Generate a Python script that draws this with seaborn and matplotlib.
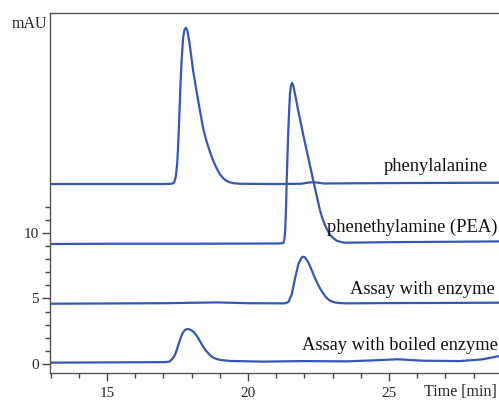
import numpy as np
import pandas as pd
import matplotlib
matplotlib.use("Agg")
import matplotlib.pyplot as plt
import seaborn as sns
from matplotlib.ticker import FixedLocator, MultipleLocator

# traces (time in min, signal in mAU, already offset)
phe_t = [12.9, 15.0, 17.0, 17.30, 17.38, 17.44, 17.49, 17.53, 17.57, 17.61, 17.65, 17.70, 17.75,
         17.80, 17.85, 17.92, 18.06, 18.24, 18.41, 18.53, 18.65, 18.77, 18.89, 19.0, 19.12,
         19.24, 19.36, 19.5, 19.72, 21.0, 21.9, 22.1, 22.3, 22.5, 22.7, 24.0, 26.0, 29.0]
phe_v = [13.74, 13.74, 13.74, 13.76, 13.85, 14.3, 15.3, 16.97, 19.2, 21.55, 23.3, 24.9, 25.55,
         25.67, 25.45, 24.60, 22.31, 20.02, 17.99, 17.0, 16.21, 15.5, 14.94, 14.5, 14.18,
         13.98, 13.87, 13.8, 13.76, 13.74, 13.76, 13.84, 13.88, 13.84, 13.78, 13.80, 13.82, 13.84]

pea_t = [12.9, 15.0, 18.0, 21.0, 21.18, 21.25, 21.29, 21.32, 21.35, 21.37, 21.40, 21.43, 21.46,
         21.49, 21.52, 21.56, 21.60, 21.65, 21.73, 21.96, 22.20, 22.34, 22.55, 22.64, 22.73,
         22.82, 22.91, 23.03, 23.15, 23.3, 23.44, 25.0, 27.0, 29.0]
pea_v = [9.16, 9.18, 9.18, 9.20, 9.21, 9.24, 9.5, 10.23, 12.0, 13.79, 15.9, 17.86, 19.4,
         20.66, 21.2, 21.47, 21.3, 20.8, 19.90, 17.48, 15.14, 13.74, 11.76, 11.1, 10.61,
         10.2, 9.85, 9.6, 9.41, 9.31, 9.26, 9.30, 9.33, 9.36]

enz_t = [12.9, 15.0, 17.0, 18.9, 20.0, 21.0, 21.30, 21.43, 21.55, 21.67, 21.79, 21.90, 21.96,
         22.02, 22.14, 22.26, 22.38, 22.55, 22.73, 22.82, 22.91, 23.02, 23.14, 23.35, 23.55,
         25.0, 27.0, 29.0]
enz_v = [4.60, 4.62, 4.64, 4.70, 4.64, 4.63, 4.63, 4.72, 5.3, 6.55, 7.65, 8.12, 8.19,
         8.14, 7.75, 7.15, 6.54, 5.78, 5.19, 4.98, 4.83, 4.73, 4.68, 4.64, 4.63,
         4.65, 4.66, 4.68]

boil_t = [12.9, 15.0, 17.0, 17.15, 17.23, 17.32, 17.41, 17.47, 17.53, 17.59, 17.65, 17.71, 17.77,
          17.83, 17.88, 17.95, 18.06, 18.15, 18.24, 18.33, 18.41, 18.50, 18.59, 18.68, 18.77,
          18.89, 19.01, 19.36, 20.5, 22.0, 23.5, 24.5, 25.3, 26.2, 27.5, 28.3, 28.9]
boil_v = [0.10, 0.12, 0.14, 0.16, 0.20, 0.40, 0.69, 1.05, 1.45, 1.85, 2.21, 2.45, 2.60,
          2.66, 2.67, 2.62, 2.47, 2.25, 1.96, 1.62, 1.32, 1.05, 0.82, 0.62, 0.48,
          0.38, 0.31, 0.23, 0.18, 0.22, 0.20, 0.28, 0.36, 0.25, 0.22, 0.35, 0.60]

labels = ["phenylalanine", "phenethylamine (PEA)", "Assay with enzyme", "Assay with boiled enzyme"]
label_x = [24.8, 22.80, 23.62, 21.90]
label_y = [15.05, 10.4, 5.65, 1.4]

x_major = [15, 20, 25]
y_major = [0, 5, 10]
y_minor = [1, 2, 3, 4, 6, 7, 8, 9, 11, 12]

sns.set_style("ticks")
plt.rcParams['font.family'] = ['Liberation Serif', 'DejaVu Serif']

color = '#3557b7'
fig = plt.figure(figsize=(4.99, 4.01), dpi=100)
ax = fig.add_axes([0.1002, 0.0698, 0.8998, 0.8978])

for t, v in [(phe_t, phe_v), (pea_t, pea_v), (enz_t, enz_v), (boil_t, boil_v)]:
    df = pd.DataFrame({'t': t, 'v': v})
    sns.lineplot(data=df, x='t', y='v', ax=ax, color=color, lw=1.6, sort=False)

ax.set_xlim(12.98, 28.9)
ax.set_ylim(-0.69, 26.8)
ax.set_xlabel('')
ax.set_ylabel('')

ax.xaxis.set_major_locator(FixedLocator(x_major))
ax.xaxis.set_minor_locator(MultipleLocator(1))
ax.yaxis.set_major_locator(FixedLocator(y_major))
ax.yaxis.set_minor_locator(FixedLocator(y_minor))
ax.tick_params(which='major', length=6, width=1, color='#444444', labelsize=11)
ax.tick_params(axis='x', which='major', pad=4)
ax.tick_params(axis='y', which='major', pad=2)
ax.tick_params(which='minor', length=3.5, width=1, color='#444444')

for s in ['left', 'bottom', 'top']:
    ax.spines[s].set_color('#555555')
    ax.spines[s].set_linewidth(1)
ax.spines['right'].set_visible(False)

for lab, lx, ly in zip(labels, label_x, label_y):
    ax.text(lx, ly, lab, fontsize=13.3, ha='left', va='center', color='#111111')

fig.text(0.923, 0.022, 'Time [min]', fontsize=11.5, ha='center', va='center')
fig.text(0.058, 0.94, 'mAU', fontsize=11.5, ha='center', va='center')

fig.savefig('out.png', dpi=100)
